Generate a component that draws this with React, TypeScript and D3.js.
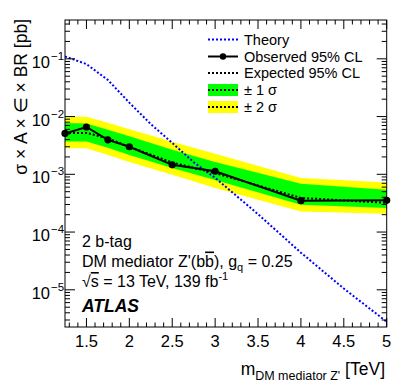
import React from "react";
import * as d3 from "d3";

const masses = [1.25, 1.5, 1.75, 2, 2.5, 3, 4, 5];
const observed = [5.1e-3, 6.6e-3, 3.95e-3, 3.0e-3, 1.46e-3, 1.13e-3, 3.5e-4, 3.55e-4];
const expected = [5.2e-3, 5.2e-3, 4.2e-3, 3.0e-3, 1.6e-3, 1.05e-3, 3.9e-4, 3.2e-4];
const sig1Up = [7.7e-3, 7.6e-3, 5.9e-3, 4.55e-3, 2.65e-3, 1.64e-3, 6.85e-4, 5.4e-4];
const sig1Dn = [3.7e-3, 3.7e-3, 2.87e-3, 2.17e-3, 1.29e-3, 8.0e-4, 2.97e-4, 2.6e-4];
const sig2Up = [1.0e-2, 9.9e-3, 7.8e-3, 6.0e-3, 3.65e-3, 2.26e-3, 8.6e-4, 7.2e-4];
const sig2Dn = [2.84e-3, 2.84e-3, 2.17e-3, 1.64e-3, 9.8e-4, 5.8e-4, 2.27e-4, 2.07e-4];

const theoryMasses = [1.25, 1.5, 1.75, 2, 2.25, 2.5, 2.75, 3, 3.5, 4, 4.5, 5];
const theory = [0.11, 0.081, 0.043, 0.0174, 7.4e-3, 3.5e-3, 1.62e-3, 8.7e-4, 2.04e-4, 4.4e-5, 1.05e-5, 2.8e-6];

const xTicks = [1.5, 2, 2.5, 3, 3.5, 4, 4.5, 5];
const yDecades = [-1, -2, -3, -4, -5];

const W = 407, H = 391;
const L = 65, R = 386.7, T = 20, B = 327;
const FONT = "'Liberation Sans', Arial, Helvetica, sans-serif";

export default function App() {
  const x = d3.scaleLinear().domain([1.25, 5]).range([L, R]);
  const y = d3.scaleLog().domain([2.27e-6, 0.47]).range([B, T]);

  const bandArea = (up: number[], dn: number[]) =>
    d3.area<number>()
      .x((_, i) => x(masses[i]))
      .y0((_, i) => y(dn[i]))
      .y1((_, i) => y(up[i]))(masses) || "";

  const line = (xs: number[], ys: number[]) =>
    d3.line<number>().x((_, i) => x(xs[i])).y((_, i) => y(ys[i]))(xs) || "";

  // minor ticks
  const yMinor: number[] = [];
  for (let d = -6; d <= 0; d++) {
    for (let k = 2; k <= 9; k++) {
      const v = k * Math.pow(10, d);
      if (v > 2.27e-6 && v < 0.47) yMinor.push(v);
    }
  }
  const xMinor: number[] = [];
  for (let i = 13; i <= 50; i++) {
    const v = i / 10;
    if (i % 5 !== 0) xMinor.push(v);
  }

  const legX0 = 208, legX1 = 238, legTx = 244;
  const legRows = [39.5, 56.5, 73, 90, 107];

  return (
    <svg width={W} height={H} style={{ position: "absolute", left: 0, top: 0, background: "#fff" }} fontFamily={FONT}>
      <rect x={0} y={0} width={W} height={H} fill="#fff" />
      <defs>
        <clipPath id="plotclip">
          <rect x={L} y={T} width={R - L} height={B - T} />
        </clipPath>
      </defs>
      <g clipPath="url(#plotclip)">
        <path d={bandArea(sig2Up, sig2Dn)} fill="#ffff00" />
        <path d={bandArea(sig1Up, sig1Dn)} fill="#00ff00" />
        <path d={line(theoryMasses, theory)} fill="none" stroke="#0000ff" strokeWidth={2} strokeDasharray="2,2" />
        <path d={line(masses, expected)} fill="none" stroke="#000" strokeWidth={2} strokeDasharray="2,2" />
        <path d={line(masses, observed)} fill="none" stroke="#000" strokeWidth={2} />
      </g>
      {masses.map((m, i) => (
        <circle key={i} cx={x(m)} cy={y(observed[i])} r={3.6} fill="#000" />
      ))}

      {/* frame */}
      <rect x={L} y={T} width={R - L} height={B - T} fill="none" stroke="#000" strokeWidth={1} />

      {/* x ticks */}
      {xTicks.map((t) => (
        <g key={"xt" + t}>
          <line x1={x(t)} x2={x(t)} y1={B} y2={B - 9} stroke="#000" />
          <line x1={x(t)} x2={x(t)} y1={T} y2={T + 9} stroke="#000" />
          <text x={x(t)} y={346.5} fontSize={16.5} textAnchor="middle">{t}</text>
        </g>
      ))}
      {xMinor.map((t) => (
        <g key={"xm" + t}>
          <line x1={x(t)} x2={x(t)} y1={B} y2={B - 4.5} stroke="#000" />
          <line x1={x(t)} x2={x(t)} y1={T} y2={T + 4.5} stroke="#000" />
        </g>
      ))}

      {/* y ticks */}
      {yDecades.map((d) => {
        const yy = y(Math.pow(10, d));
        return (
          <g key={"yt" + d}>
            <line x1={L} x2={L + 10} y1={yy} y2={yy} stroke="#000" />
            <line x1={R} x2={R - 10} y1={yy} y2={yy} stroke="#000" />
            <text x={50} y={yy + 9} fontSize={16.5} textAnchor="end">10</text>
            <text x={51} y={yy + 1} fontSize={11.5} textAnchor="start">{"\u2212" + Math.abs(d)}</text>
          </g>
        );
      })}
      {yMinor.map((v, i) => (
        <g key={"ym" + i}>
          <line x1={L} x2={L + 5} y1={y(v)} y2={y(v)} stroke="#000" />
          <line x1={R} x2={R - 5} y1={y(v)} y2={y(v)} stroke="#000" />
        </g>
      ))}

      {/* axis titles */}
      <text transform={`translate(27,19) rotate(-90)`} fontSize={17.5} textAnchor="end">
        σ × A × ∈ × BR [pb]
      </text>
      <text x={385} y={375} fontSize={17.5} textAnchor="end">
        m<tspan fontSize={12.5} dy={5}>DM mediator Z'</tspan>
        <tspan dy={-5}> [TeV]</tspan>
      </text>

      {/* legend */}
      <line x1={legX0} x2={legX1} y1={legRows[0]} y2={legRows[0]} stroke="#0000ff" strokeWidth={2} strokeDasharray="2,2" />
      <text x={legTx} y={legRows[0] + 5} fontSize={14.5}>Theory</text>
      <line x1={legX0} x2={legX1} y1={legRows[1]} y2={legRows[1]} stroke="#000" strokeWidth={2} />
      <circle cx={(legX0 + legX1) / 2} cy={legRows[1]} r={3.2} fill="#000" />
      <text x={legTx} y={legRows[1] + 5} fontSize={14.5}>Observed 95% CL</text>
      <line x1={legX0} x2={legX1} y1={legRows[2]} y2={legRows[2]} stroke="#000" strokeWidth={2} strokeDasharray="2,2" />
      <text x={legTx} y={legRows[2] + 5} fontSize={14.5}>Expected 95% CL</text>
      <rect x={legX0} y={legRows[3] - 6} width={legX1 - legX0} height={12} fill="#00ff00" />
      <line x1={legX0} x2={legX1} y1={legRows[3]} y2={legRows[3]} stroke="#000" strokeWidth={2} strokeDasharray="2,2" />
      <text x={legTx} y={legRows[3] + 5} fontSize={14.5}>± 1 σ</text>
      <rect x={legX0} y={legRows[4] - 6} width={legX1 - legX0} height={12} fill="#ffff00" />
      <line x1={legX0} x2={legX1} y1={legRows[4]} y2={legRows[4]} stroke="#000" strokeWidth={2} strokeDasharray="2,2" />
      <text x={legTx} y={legRows[4] + 5} fontSize={14.5}>± 2 σ</text>

      {/* annotations */}
      <text x={82} y={246.5} fontSize={16}>2 b-tag</text>
      <text x={82} y={266.5} fontSize={16}>
        DM mediator Z'(b<tspan style={{ textDecoration: "overline" }}>b</tspan>), g
        <tspan fontSize={11} dy={4}>q</tspan>
        <tspan dy={-4}> = 0.25</tspan>
      </text>
      <text x={82} y={287} fontSize={16}>
        √<tspan style={{ textDecoration: "overline" }}>s</tspan> = 13 TeV, 139 fb
        <tspan fontSize={11} dy={-7}>-1</tspan>
      </text>
      <text x={82} y={311.5} fontSize={17.5} fontWeight="bold" fontStyle="italic">ATLAS</text>
    </svg>
  );
}
